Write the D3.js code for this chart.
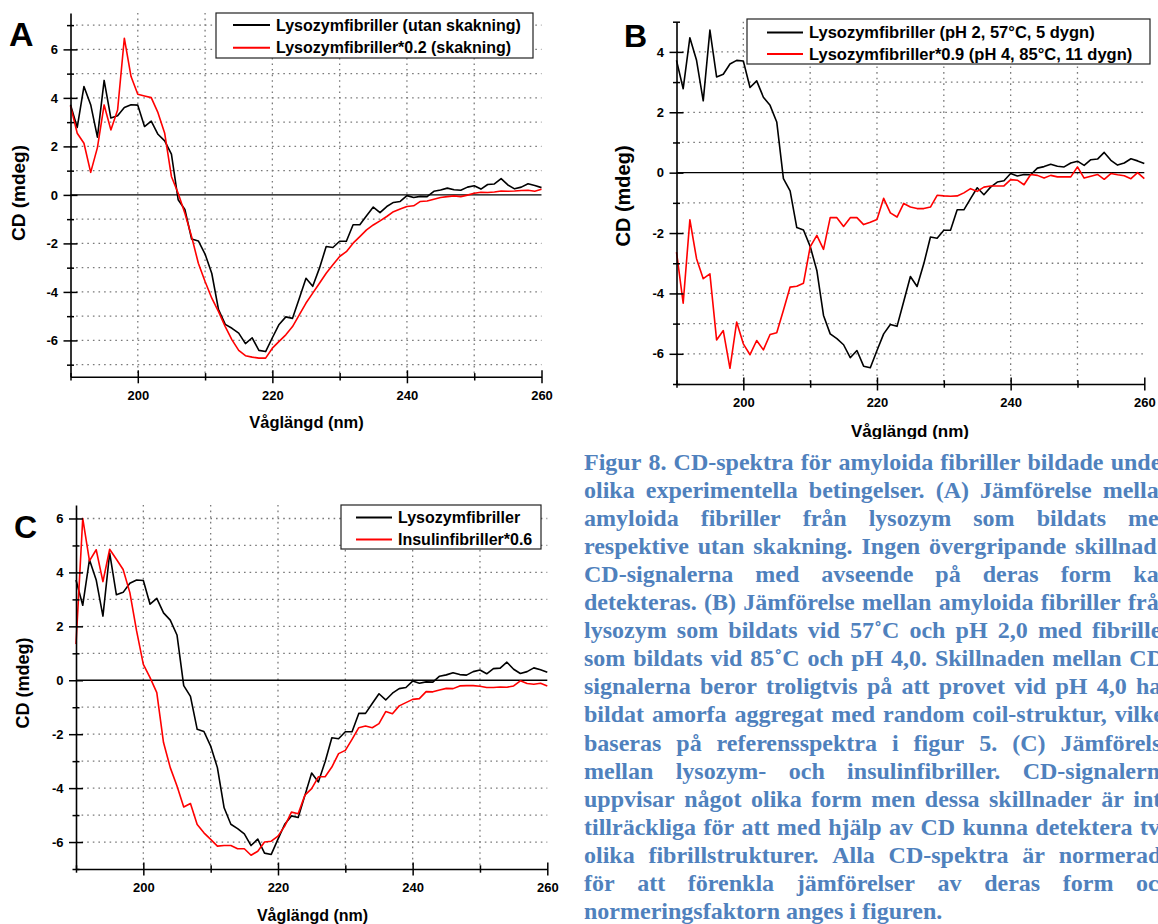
<!DOCTYPE html>
<html>
<head>
<meta charset="utf-8">
<script src="https://cdn.jsdelivr.net/npm/d3@7"></script>
<style>
  html, body { margin: 0; padding: 0; background: #fff; overflow: hidden; }
  svg { display: block; }
</style>
</head>
<body>
<svg id="fig" width="1158" height="924"></svg>
<script>
// ---------------------------------------------------------------------------
// DATA (1 nm steps)
// ---------------------------------------------------------------------------
const wavelength = [
  190, 191, 192, 193, 194, 195, 196, 197, 198, 199,
  200, 201, 202, 203, 204, 205, 206, 207, 208, 209,
  210, 211, 212, 213, 214, 215, 216, 217, 218, 219,
  220, 221, 222, 223, 224, 225, 226, 227, 228, 229,
  230, 231, 232, 233, 234, 235, 236, 237, 238, 239,
  240, 241, 242, 243, 244, 245, 246, 247, 248, 249,
  250, 251, 252, 253, 254, 255, 256, 257, 258, 259,
  260
];

// Lysozymfibriller (pH 2, 57°C, 5 dygn, utan skakning) - same curve in A, B, C
const lysozym = [
  3.72, 2.78, 4.47, 3.72, 2.38, 4.72, 3.17, 3.26, 3.60, 3.72,
  3.70, 2.82, 3.04, 2.50, 2.23, 1.68, -0.20, -0.60, -1.82, -1.90,
  -2.44, -3.24, -4.73, -5.34, -5.50, -5.70, -6.13, -5.89, -6.41, -6.46,
  -5.89, -5.34, -5.03, -5.09, -4.27, -3.44, -3.77, -3.02, -2.13, -2.17,
  -1.91, -1.91, -1.23, -1.23, -0.86, -0.50, -0.73, -0.48, -0.31, -0.27,
  -0.03, -0.11, -0.06, -0.07, 0.15, 0.20, 0.28, 0.21, 0.19, 0.32,
  0.38, 0.24, 0.43, 0.45, 0.67, 0.41, 0.25, 0.32, 0.46, 0.39,
  0.30
];

// A: Lysozymfibriller*0.2 (skakning)
const lysozymSkakning = [
  3.67, 2.54, 2.13, 0.93, 1.95, 3.71, 2.68, 3.50, 6.46, 4.88,
  4.15, 4.08, 4.01, 3.39, 2.54, 0.76, 0.07, -0.76, -1.72, -2.82,
  -3.57, -4.26, -4.81, -5.43, -5.98, -6.41, -6.63, -6.69, -6.73, -6.73,
  -6.32, -6.04, -5.77, -5.43, -4.95, -4.46, -4.05, -3.64, -3.23, -2.88,
  -2.54, -2.34, -1.99, -1.72, -1.44, -1.24, -1.07, -0.89, -0.69, -0.58,
  -0.48, -0.45, -0.27, -0.25, -0.18, -0.11, -0.07, -0.04, -0.07, -0.01,
  0.07, 0.11, 0.10, 0.12, 0.16, 0.15, 0.16, 0.18, 0.19, 0.15,
  0.23
];

// B: Lysozymfibriller*0.9 (pH 4, 85°C, 11 dygn)
const lysozymPH4 = [
  -2.63, -4.32, -1.56, -2.85, -3.51, -3.35, -5.54, -5.23, -6.48, -4.95,
  -5.67, -6.03, -5.56, -5.87, -5.36, -5.30, -4.56, -3.79, -3.76, -3.66,
  -2.46, -2.08, -2.54, -1.49, -1.49, -1.78, -1.49, -1.49, -1.72, -1.64,
  -1.55, -0.85, -1.33, -1.47, -1.02, -1.14, -1.19, -1.19, -1.14, -0.75,
  -0.77, -0.78, -0.77, -0.67, -0.53, -0.62, -0.48, -0.44, -0.44, -0.44,
  -0.23, -0.25, -0.40, -0.06, -0.09, -0.18, -0.09, -0.14, -0.14, -0.14,
  0.19, -0.18, -0.12, -0.06, -0.22, -0.03, -0.07, -0.10, -0.20, 0.00,
  -0.20
];

// C: Insulinfibriller*0.6
const insulin = [
  1.34, 6.00, 4.43, 4.84, 3.66, 4.86, 4.49, 4.11, 3.25, 1.83,
  0.59, 0.10, -0.46, -2.31, -3.24, -3.92, -4.70, -4.57, -5.35, -5.66,
  -5.90, -6.15, -6.13, -6.13, -6.25, -6.25, -6.49, -6.34, -6.00, -5.97,
  -5.78, -5.41, -4.89, -4.95, -4.26, -4.02, -3.58, -3.58, -3.22, -2.72,
  -2.60, -2.19, -1.76, -1.70, -1.76, -1.61, -1.16, -1.24, -0.95, -0.83,
  -0.71, -0.68, -0.42, -0.43, -0.36, -0.30, -0.31, -0.21, -0.20, -0.20,
  -0.22, -0.27, -0.27, -0.25, -0.26, -0.21, -0.02, -0.12, -0.15, -0.11,
  -0.21
];

// Ticks
const xMajorTicks = [200, 220, 240, 260];
const xMinorTicks = [190, 210, 230, 250];
const xGridLines = [200, 210, 220, 230, 240, 250];

const yLabelsA = [-6, -4, -2, 0, 2, 4, 6];
const yMinorA = [-7, -5, -3, -1, 1, 3, 5, 7];
const yLabelsB = [-6, -4, -2, 0, 2, 4];
const yMinorB = [-7, -5, -3, -1, 1, 3, 5];
const yLabelsC = [-6, -4, -2, 0, 2, 4, 6];
const yMinorC = [-7, -5, -3, -1, 1, 3, 5];

// Legend texts
const legendA = ['Lysozymfibriller (utan skakning)', 'Lysozymfibriller*0.2 (skakning)'];
const legendB = ['Lysozymfibriller (pH 2, 57°C, 5 dygn)', 'Lysozymfibriller*0.9 (pH 4, 85°C, 11 dygn)'];
const legendC = ['Lysozymfibriller', 'Insulinfibriller*0.6'];

const xTitle = 'Våglängd (nm)';
const yTitle = 'CD (mdeg)';

const captionLines = [
  'Figur 8. CD-spektra för amyloida fibriller bildade under',
  'olika experimentella betingelser. (A) Jämförelse mellan',
  'amyloida fibriller från lysozym som bildats med',
  'respektive utan skakning. Ingen övergripande skillnad i',
  'CD-signalerna med avseende på deras form kan',
  'detekteras. (B) Jämförelse mellan amyloida fibriller från',
  'lysozym som bildats vid 57˚C och pH 2,0 med fibriller',
  'som bildats vid 85˚C och pH 4,0. Skillnaden mellan CD-',
  'signalerna beror troligtvis på att provet vid pH 4,0 har',
  'bildat amorfa aggregat med random coil-struktur, vilket',
  'baseras på referensspektra i figur 5. (C) Jämförelse',
  'mellan lysozym- och insulinfibriller. CD-signalerna',
  'uppvisar något olika form men dessa skillnader är inte',
  'tillräckliga för att med hjälp av CD kunna detektera två',
  'olika fibrillstrukturer. Alla CD-spektra är normerade',
  'för att förenkla jämförelser av deras form och',
  'normeringsfaktorn anges i figuren.'
];

// ---------------------------------------------------------------------------
// LAYOUT
// ---------------------------------------------------------------------------
const SANS = '"Liberation Sans", Arial, Helvetica, sans-serif';
const SERIF = '"Liberation Serif", "Times New Roman", serif';
const RED = '#ff0000';
const GRID = '#7a7a7a';

const panels = [
  {
    letter: 'A', letterPos: [9, 46, 34],
    xRange: [70.5, 541.5], yDomain: [-7.5, 7.5], yRange: [376.8, 13],
    red: lysozymSkakning, yLabels: yLabelsA, yMinor: yMinorA, legend: legendA,
    box: [216, 13, 533, 58], rows: [25.1, 47.7], lineX: [233, 270], textX: 276, legendSize: 16,
    yTitlePos: [18, 193, 19], xTitlePos: [306.5, 428, 16.5], clip: null
  },
  {
    letter: 'B', letterPos: [624, 47, 32],
    xRange: [676.5, 1144.3], yDomain: [-7, 5], yRange: [384, 21.7],
    red: lysozymPH4, yLabels: yLabelsB, yMinor: yMinorB, legend: legendB,
    box: [747, 19, 1150, 64], rows: [32.4, 54], lineX: [767, 803], textX: 809, legendSize: 16.5,
    yTitlePos: [623, 196, 20], xTitlePos: [910, 437, 17], clip: [590, 0, 568, 439]
  },
  {
    letter: 'C', letterPos: [14, 538.4, 32],
    xRange: [76, 547.3], yDomain: [-7, 6.5], yRange: [869, 505],
    red: insulin, yLabels: yLabelsC, yMinor: yMinorC, legend: legendC,
    box: [341, 505, 541, 549], rows: [517.6, 539.4], lineX: [356, 392], textX: 398, legendSize: 16,
    yTitlePos: [23, 683, 18], xTitlePos: [312.5, 921, 16], clip: null
  }
];

const svg = d3.select('#fig');
svg.append('rect').attr('width', 1158).attr('height', 924).attr('fill', '#fff');

function drawPanel(p, idx) {
  const g = svg.append('g');
  if (p.clip) {
    svg.append('clipPath').attr('id', 'clip' + idx)
      .append('rect').attr('x', p.clip[0]).attr('y', p.clip[1])
      .attr('width', p.clip[2]).attr('height', p.clip[3]);
    g.attr('clip-path', `url(#clip${idx})`);
  }

  const x = d3.scaleLinear().domain([190, 260]).range(p.xRange);
  const y = d3.scaleLinear().domain(p.yDomain).range(p.yRange);
  const yTop = p.yRange[1], yBot = p.yRange[0];

  // GRID
  g.append('g').selectAll('line').data(xGridLines).join('line')
    .attr('x1', d => x(d)).attr('x2', d => x(d))
    .attr('y1', yTop).attr('y2', yBot)
    .attr('stroke', GRID).attr('stroke-width', 1.3).attr('stroke-dasharray', '1.6,4');

  const yGrid = p.yLabels.concat(p.yMinor)
    .filter(v => v !== 0 && v > p.yDomain[0] && v < p.yDomain[1]);
  g.append('g').selectAll('line').data(yGrid).join('line')
    .attr('x1', x(190)).attr('x2', x(260))
    .attr('y1', d => y(d)).attr('y2', d => y(d))
    .attr('stroke', GRID).attr('stroke-width', 1.3).attr('stroke-dasharray', '1.6,4');

  // ZERO LINE
  g.append('line')
    .attr('x1', x(190)).attr('x2', x(260))
    .attr('y1', y(0)).attr('y2', y(0))
    .attr('stroke', '#000').attr('stroke-width', 1.3);

  // SERIES
  const line = d3.line().x((d, i) => x(wavelength[i])).y(d => y(d));
  g.append('path').datum(lysozym).attr('d', line)
    .attr('fill', 'none').attr('stroke', '#000').attr('stroke-width', 1.6)
    .attr('stroke-linejoin', 'round');
  g.append('path').datum(p.red).attr('d', line)
    .attr('fill', 'none').attr('stroke', RED).attr('stroke-width', 1.6)
    .attr('stroke-linejoin', 'round');

  // AXES
  const xTicks = xMinorTicks.concat(xMajorTicks).sort((a, b) => a - b);
  const xa = g.append('g').attr('transform', `translate(0,${yBot})`)
    .call(d3.axisBottom(x).tickValues(xTicks).tickSize(6.5).tickSizeOuter(0).tickPadding(7)
      .tickFormat(d => xMajorTicks.includes(d) ? d : ''))
    .attr('font-family', SANS).attr('font-size', 13).attr('font-weight', 'bold');
  xa.select('.domain').attr('stroke-width', 1.6);
  xa.selectAll('.tick line')
    .attr('y1', d => xMajorTicks.includes(d) ? -6.5 : -3.7)
    .attr('y2', d => xMajorTicks.includes(d) ? 6.5 : 3.7)
    .attr('stroke-width', 1.5);

  const yTicks = p.yMinor.concat(p.yLabels).sort((a, b) => a - b);
  const ya = g.append('g').attr('transform', `translate(${p.xRange[0]},0)`)
    .call(d3.axisLeft(y).tickValues(yTicks).tickSize(7).tickSizeOuter(0).tickPadding(5.5)
      .tickFormat(d => p.yLabels.includes(d) ? d : ''))
    .attr('font-family', SANS).attr('font-size', 13).attr('font-weight', 'bold');
  ya.select('.domain').attr('stroke-width', 1.6);
  ya.selectAll('.tick line')
    .attr('x1', d => p.yLabels.includes(d) ? -7 : -3.5)
    .attr('x2', d => p.yLabels.includes(d) ? 7 : 3.5)
    .attr('stroke-width', 1.5);
  ya.selectAll('.tick text').text(d => p.yLabels.includes(d) ? String(d).replace('−', '-') : '');

  // AXIS TITLES
  g.append('text')
    .attr('transform', `translate(${p.yTitlePos[0] + p.yTitlePos[2] * 0.36},${p.yTitlePos[1]}) rotate(-90)`)
    .attr('text-anchor', 'middle')
    .attr('font-family', SANS).attr('font-weight', 'bold').attr('font-size', p.yTitlePos[2])
    .text(yTitle);
  g.append('text')
    .attr('x', p.xTitlePos[0]).attr('y', p.xTitlePos[1])
    .attr('text-anchor', 'middle')
    .attr('font-family', SANS).attr('font-weight', 'bold').attr('font-size', p.xTitlePos[2])
    .text(xTitle);

  // PANEL LETTER
  g.append('text')
    .attr('x', p.letterPos[0]).attr('y', p.letterPos[1])
    .attr('font-family', SANS).attr('font-weight', 'bold').attr('font-size', p.letterPos[2])
    .text(p.letter);

  // LEGEND
  const lg = g.append('g');
  lg.append('rect')
    .attr('x', p.box[0]).attr('y', p.box[1])
    .attr('width', p.box[2] - p.box[0]).attr('height', p.box[3] - p.box[1])
    .attr('fill', '#fff').attr('stroke', '#222').attr('stroke-width', 1.2);
  const colors = ['#000', RED];
  p.legend.forEach((label, i) => {
    lg.append('line')
      .attr('x1', p.lineX[0]).attr('x2', p.lineX[1])
      .attr('y1', p.rows[i]).attr('y2', p.rows[i])
      .attr('stroke', colors[i]).attr('stroke-width', 2);
    lg.append('text')
      .attr('x', p.textX).attr('y', p.rows[i] + p.legendSize * 0.36)
      .attr('font-family', SANS).attr('font-weight', 'bold').attr('font-size', p.legendSize)
      .text(label);
  });
}

panels.forEach(drawPanel);

// ---------------------------------------------------------------------------
// CAPTION (justified, runs off the right edge as in the original)
// ---------------------------------------------------------------------------
const capLeft = 584, capRight = 1172, capTop = 470, capStep = 28.05, capSize = 24;
const cap = svg.append('g')
  .attr('font-family', SERIF).attr('font-weight', 'bold')
  .attr('font-size', capSize).attr('fill', '#4f81bd');

captionLines.forEach((lineText, i) => {
  const words = lineText.split(' ');
  const yy = capTop + i * capStep;
  const nodes = words.map(w => cap.append('text').attr('y', yy).text(w));
  const widths = nodes.map(n => n.node().getComputedTextLength());
  const total = d3.sum(widths);
  const isLast = i === captionLines.length - 1;
  const gap = isLast || words.length < 2 ? capSize * 0.25
    : (capRight - capLeft - total) / (words.length - 1);
  let cx = capLeft;
  nodes.forEach((n, j) => { n.attr('x', cx); cx += widths[j] + gap; });
});
</script>
</body>
</html>
